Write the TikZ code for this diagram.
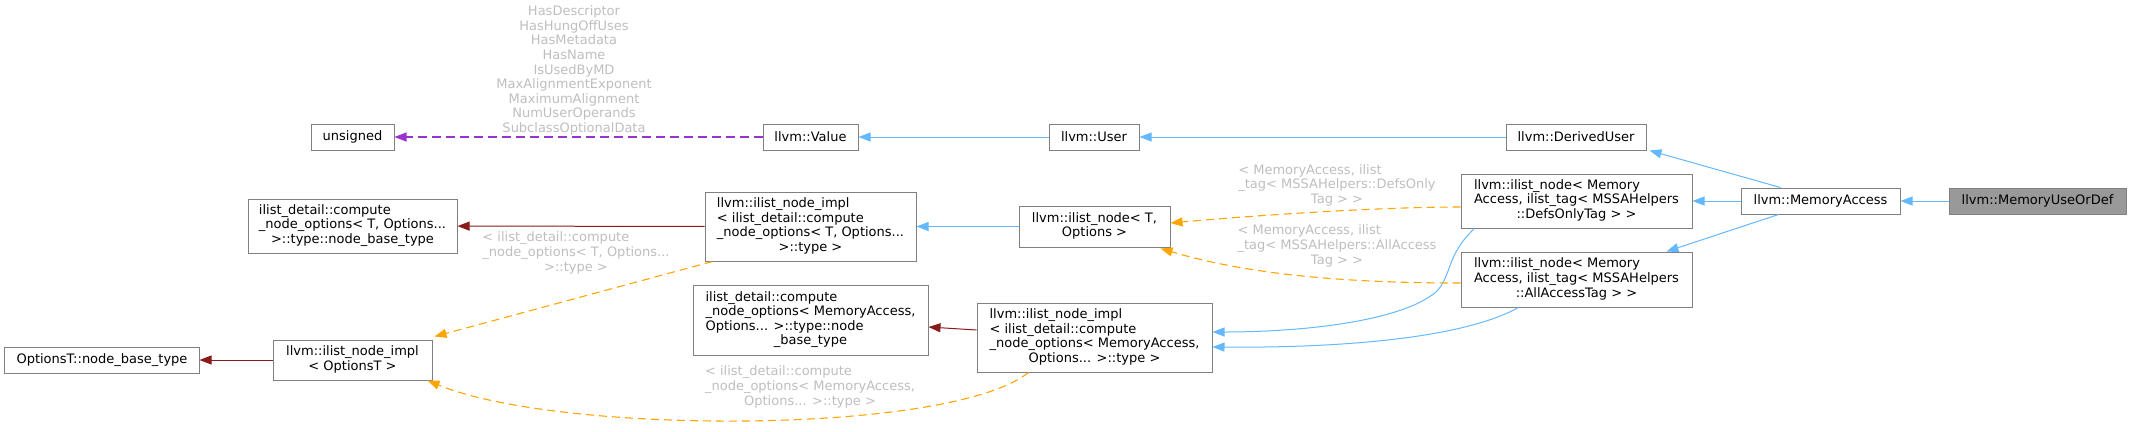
\documentclass[tikz,border=0pt]{standalone}
\usepackage{fontspec}
\setmainfont{DejaVu Sans}
\usetikzlibrary{arrows.meta,calc}
\definecolor{eblue}{HTML}{63B8FF}
\definecolor{ered}{HTML}{8B1A1A}
\definecolor{eorange}{HTML}{FFA500}
\definecolor{epurple}{HTML}{9A32CD}
\definecolor{lblgray}{HTML}{BEBEBE}
\definecolor{boxline}{HTML}{808080}
\definecolor{curfill}{HTML}{999999}
\newcommand\dxt[1]{\begin{tabular}{@{}l@{}}#1\end{tabular}}
\newcommand\lastc[1]{\multicolumn{1}{@{}c@{}}{#1}}
\begin{document}
\begin{tikzpicture}[x=1bp,y=-1bp,
  font=\fontsize{13bp}{14.6bp}\selectfont,
  cls/.style 2 args={draw=boxline, line width=1bp, fill=white, inner sep=0pt,
    minimum width=#1bp, minimum height=#2bp, text=black},
  lbl/.style={text=lblgray, inner sep=0pt, align=center},
  tipa/.style={-{Triangle[length=12bp,width=9bp]}},
  bedge/.style={tipa, draw=eblue, line width=1bp},
  redge/.style={tipa, draw=ered, line width=1bp},
  oedge/.style={tipa, draw=eorange, line width=1.1bp, dash pattern=on 8bp off 5bp},
  pedge/.style={tipa, draw=epurple, line width=1.1bp, dash pattern=on 9bp off 5bp}]
\useasboundingbox (0,0) rectangle (2131,431);

% nodes
\node[cls={83}{26}] (n1) at (352.5,137) {unsigned};
\node[cls={95}{26}] (n2) at (810.5,137) {llvm::Value};
\node[cls={90}{26}] (n3) at (1094,137) {llvm::User};
\node[cls={140}{26}] (n4) at (1576,137) {llvm::DerivedUser};
\node[cls={209}{54}] (n5) at (352.5,226) {\dxt{ilist\_detail::compute\\ \_node\_options< T, Options...\\ \lastc{>::type::node\_base\_type}}};
\node[cls={211}{69}] (n6) at (810.5,226.5) {\dxt{llvm::ilist\_node\_impl\\ < ilist\_detail::compute\\ \_node\_options< T, Options...\\ \lastc{>::type >}}};
\node[cls={151}{41}] (n7) at (1094.5,226.5) {\dxt{llvm::ilist\_node< T,\\ \lastc{Options >}}};
\node[cls={231}{54}] (n8) at (1576.5,201) {\dxt{llvm::ilist\_node< Memory\\ Access, ilist\_tag< MSSAHelpers\\ \lastc{::DefsOnlyTag > >}}};
\node[cls={231}{55}] (n9) at (1576.5,279.5) {\dxt{llvm::ilist\_node< Memory\\ Access, ilist\_tag< MSSAHelpers\\ \lastc{::AllAccessTag > >}}};
\node[cls={159}{26}] (n10) at (1820.5,201) {llvm::MemoryAccess};
\node[cls={177}{26}, fill=curfill] (n11) at (2037.5,201) {llvm::MemoryUseOrDef};
\node[cls={194}{26}] (n12) at (102,360) {OptionsT::node\_base\_type};
\node[cls={159}{40}] (n13) at (352.5,360) {\dxt{llvm::ilist\_node\_impl\\ \lastc{< OptionsT >}}};
\node[cls={235}{70}] (n14) at (810.5,320) {\dxt{ilist\_detail::compute\\ \_node\_options< MemoryAccess,\\ Options... >::type::node\\ \lastc{\_base\_type}}};
\node[cls={235}{69}] (n15) at (1094.5,337.5) {\dxt{llvm::ilist\_node\_impl\\ < ilist\_detail::compute\\ \_node\_options< MemoryAccess,\\ \lastc{Options... >::type >}}};

% edge labels
\node[lbl] (l1) at (574,70.5) {HasDescriptor\\ HasHungOffUses\\ HasMetadata\\ HasName\\ IsUsedByMD\\ MaxAlignmentExponent\\ MaximumAlignment\\ NumUserOperands\\ SubclassOptionalData};
\node[lbl] (l2) at (576,253.5) {\dxt{< ilist\_detail::compute\\ \_node\_options< T, Options...\\ \lastc{>::type >}}};
\node[lbl] (l3) at (1337,186) {\dxt{< MemoryAccess, ilist\\ \_tag< MSSAHelpers::DefsOnly\\ \lastc{Tag > >}}};
\node[lbl] (l4) at (1337,246.5) {\dxt{< MemoryAccess, ilist\\ \_tag< MSSAHelpers::AllAccess\\ \lastc{Tag > >}}};
\node[lbl] (l5) at (810,387.5) {\dxt{< ilist\_detail::compute\\ \_node\_options< MemoryAccess,\\ \lastc{Options... >::type >}}};

% edges
\draw[pedge] (n2) -- (n1);
\draw[bedge] (n3) -- (n2);
\draw[bedge] (n4) -- (n3);
\draw[bedge] ($(n10.north)+(-40,0)$) -- ($(n4.south east)+(3,0)$);
\draw[bedge] (n10) -- (n8);
\draw[bedge] ($(n10.south)+(-42,0)$) -- ($(n9.north)+(90,0)$);
\draw[bedge] (n11) -- (n10);
\draw[bedge] ($(n8.south west)+(14,0)$) .. controls (1446,255) and (1452,276) .. (1436,292)
  .. controls (1400,322) and (1300,332) .. ($(n15.east)+(0,-5.5)$);
\draw[bedge] ($(n9.south west)+(58,0)$) .. controls (1460,340) and (1330,348) .. ($(n15.east)+(0,9.5)$);
\draw[oedge] ($(n8.west)+(0,6)$) .. controls (1380,207) and (1260,215) .. ($(n7.east)+(0,-3.5)$);
\draw[oedge] ($(n9.west)+(0,3.5)$) .. controls (1330,283) and (1240,272) .. ($(n7.south east)+(-10,1)$);
\draw[bedge] (n7) -- (n6);
\draw[redge] (n6) -- (n5);
\draw[redge] ($(n15.west)+(0,-7.5)$) -- ($(n14.east)+(0,7)$);
\draw[redge] (n13) -- (n12);
\draw[oedge] ($(n6.south west)+(8,0)$) -- ($(n13.north east)+(2,-3)$);
\draw[oedge] ($(n15.south west)+(52,0)$) .. controls (950,435) and (560,435) .. ($(n13.south east)+(-5,0)$);
\end{tikzpicture}
\end{document}
